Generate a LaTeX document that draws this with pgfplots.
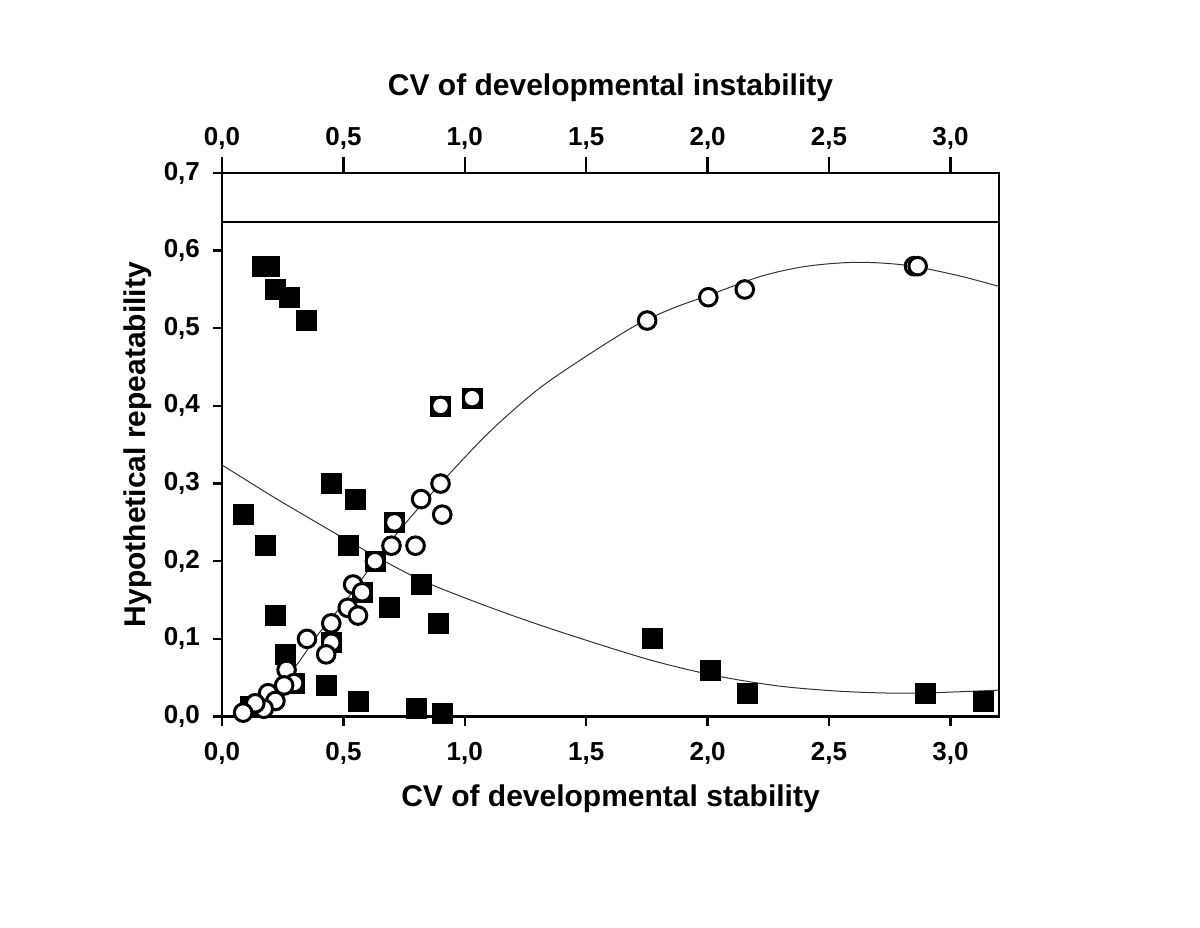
\documentclass[border=0pt]{standalone}
\usepackage{fontspec}
\setmainfont{Liberation Sans}
\usepackage{pgfplots}
\pgfplotsset{compat=1.18}

% filled squares and open circles
\pgfplotstableread{
x y
0.167 0.58
0.194 0.58
0.218 0.55
0.278 0.54
0.349 0.51
0.089 0.26
0.179 0.22
0.219 0.13
0.260 0.08
0.297 0.043
0.118 0.013
0.430 0.04
0.560 0.02
0.800 0.01
0.909 0.004
0.450 0.30
0.550 0.28
0.520 0.22
0.820 0.17
0.690 0.14
0.890 0.12
0.710 0.25
0.630 0.20
0.577 0.16
0.450 0.095
0.900 0.40
1.030 0.41
1.772 0.10
2.012 0.06
2.164 0.03
2.895 0.03
3.135 0.02
}\squares

\pgfplotstableread{
x y
0.900 0.30
0.820 0.28
0.907 0.26
0.710 0.25
0.698 0.22
0.797 0.22
0.630 0.20
0.540 0.17
0.577 0.16
0.518 0.14
0.560 0.13
0.450 0.12
0.350 0.10
0.450 0.095
0.429 0.08
0.266 0.06
0.297 0.043
0.256 0.04
0.190 0.03
0.220 0.02
0.172 0.01
0.137 0.017
0.087 0.005
0.900 0.40
1.030 0.41
1.751 0.51
2.003 0.54
2.153 0.55
2.850 0.58
2.865 0.58
}\circles

\pgfplotstableread{
x y
0.14 0.0
0.302 0.064
0.399 0.107
0.522 0.154
0.632 0.201
0.742 0.244
0.90 0.300
1.10 0.366
1.30 0.421
1.50 0.464
1.70 0.503
1.85 0.525
2.00 0.542
2.22 0.567
2.41 0.580
2.617 0.585
2.823 0.581
3.03 0.568
3.20 0.554
}\rising

\pgfplotstableread{
x y
0.0 0.324
0.2 0.285
0.4 0.248
0.6 0.212
0.825 0.175
1.1 0.141
1.374 0.111
1.75 0.074
2.026 0.053
2.3 0.039
2.576 0.032
2.851 0.030
3.2 0.034
}\falling

\pgfplotsset{
  myticks/.style={
    tick align=outside,
    axis line style={line width=1.2pt},
    every tick/.style={black, line width=1.2pt},
    ticklabel style={font=\fontsize{13}{15}\selectfont\bfseries},
    label style={font=\fontsize{15}{17}\selectfont\bfseries},
    /pgf/number format/.cd, fixed, fixed zerofill, precision=1, use comma, assume math mode=true,
  },
}

\begin{document}
\begin{tikzpicture}
\begin{axis}[
  myticks,
  scale only axis,
  width=388.5pt, height=271.75pt,
  xmin=0, xmax=3.2, ymin=0, ymax=0.7,
  xtick={0,0.5,1,1.5,2,2.5,3},
  ytick={0,0.1,0.2,0.3,0.4,0.5,0.6,0.7},
  xtick pos=left, ytick pos=left,
  major tick length=4.5pt,
  xticklabel style={yshift=-5pt},
  yticklabel style={xshift=-3pt},
  xlabel={CV of developmental stability},
  ylabel={Hypothetical repeatability},
  xlabel style={yshift=-3pt},
  ylabel style={yshift=-1pt},
]
\addplot[black, line width=0.8pt] coordinates {(0,0.6366) (3.2,0.6366)};
\addplot[black!80, line width=0.5pt, smooth] table {\rising};
\addplot[black!80, line width=0.5pt, smooth] table {\falling};
\addplot[only marks, mark=square*, mark size=5pt, mark options={draw=black, fill=black}] table {\squares};
\addplot[only marks, mark=*, mark size=4.4pt, mark options={draw=black, fill=white, line width=1.5pt}] table {\circles};
\end{axis}
\begin{axis}[
  myticks,
  scale only axis,
  width=388.5pt, height=271.75pt,
  xmin=0, xmax=3.2, ymin=0, ymax=0.7,
  xtick={0,0.5,1,1.5,2,2.5,3},
  axis x line*=top,
  hide y axis,
  major tick length=8pt,
  xlabel={CV of developmental instability},
  xlabel style={yshift=6pt},
]
\end{axis}
\path (-111pt,-105.25pt) rectangle (489pt,358.25pt);
\end{tikzpicture}
\end{document}
